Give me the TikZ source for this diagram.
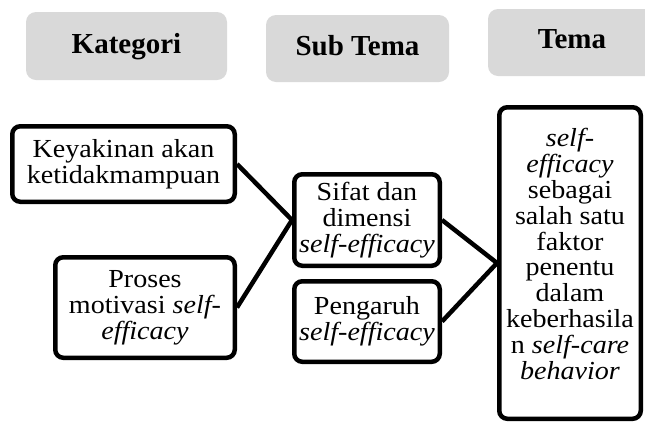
\documentclass[tikz,border=0pt]{standalone}
\usepackage{fontspec}
\setmainfont{Liberation Serif}[FakeStretch=1.08]
\newfontfamily\hdrfont{Liberation Serif}
\definecolor{hdrgray}{HTML}{D9D9D9}
\begin{document}
\begin{tikzpicture}[x=1pt,y=-1pt,
  hbox/.style={fill=hdrgray, rounded corners=10pt, inner sep=0pt},
  htext/.style={font=\hdrfont\bfseries\fontsize{29}{33}\selectfont, inner sep=0pt, anchor=base},
  cbox/.style={draw, line width=4.5pt, rounded corners=8pt, align=center, inner sep=2pt,
    font=\fontsize{26}{26}\selectfont},
  ctext/.style={align=center, inner sep=0pt, font=\fontsize{26}{25.8}\selectfont},
  link/.style={line width=4.5pt}]
\useasboundingbox (0,0) rectangle (645,424);
\clip (0,0) rectangle (645,424);
% header boxes
\node[hbox, minimum width=201pt, minimum height=68pt] (hk) at (126.5,46) {};
\node[htext] (hkt) at (126.5,53) {Kategori};
\node[hbox, minimum width=183pt, minimum height=67pt] (hs) at (357.5,48.5) {};
\node[htext] (hst) at (357.5,55) {Sub Tema};
\node[hbox, minimum width=168pt, minimum height=67pt] (ht) at (572,42.5) {};
\node[htext] (htt) at (572,48) {Tema};
% content boxes
\node[cbox, minimum width=222.5pt, minimum height=75.5pt] (kay) at (123.5,164) {Keyakinan akan\\ketidakmampuan};
\node[cbox, minimum width=179.5pt, minimum height=100.5pt] (pro) at (145,307.5) {Proses\\motivasi \textit{self-}\\\textit{efficacy}};
\node[cbox, minimum width=145.5pt, minimum height=91.5pt] (sif) at (367,220) {Sifat dan\\dimensi\\\textit{self-efficacy}};
\node[cbox, minimum width=145.5pt, minimum height=80.5pt] (pen) at (367,321.5) {Pengaruh\\\textit{self-efficacy}};
\node[cbox, minimum width=141.5pt, minimum height=311.5pt] (tem) at (570,263) {};
\node[ctext] (temt) at (570,254) {\textit{self-}\\\textit{efficacy}\\sebagai\\salah satu\\faktor\\penentu\\dalam\\keberhasila\\n \textit{self-care}\\\textit{behavior}};
% connectors
\draw[link] (kay.east) -- (sif.west);
\draw[link] (pro.east) -- (sif.west);
\draw[link] (sif.east) -- (tem.west);
\draw[link] (pen.east) -- (tem.west);
\end{tikzpicture}
\end{document}
